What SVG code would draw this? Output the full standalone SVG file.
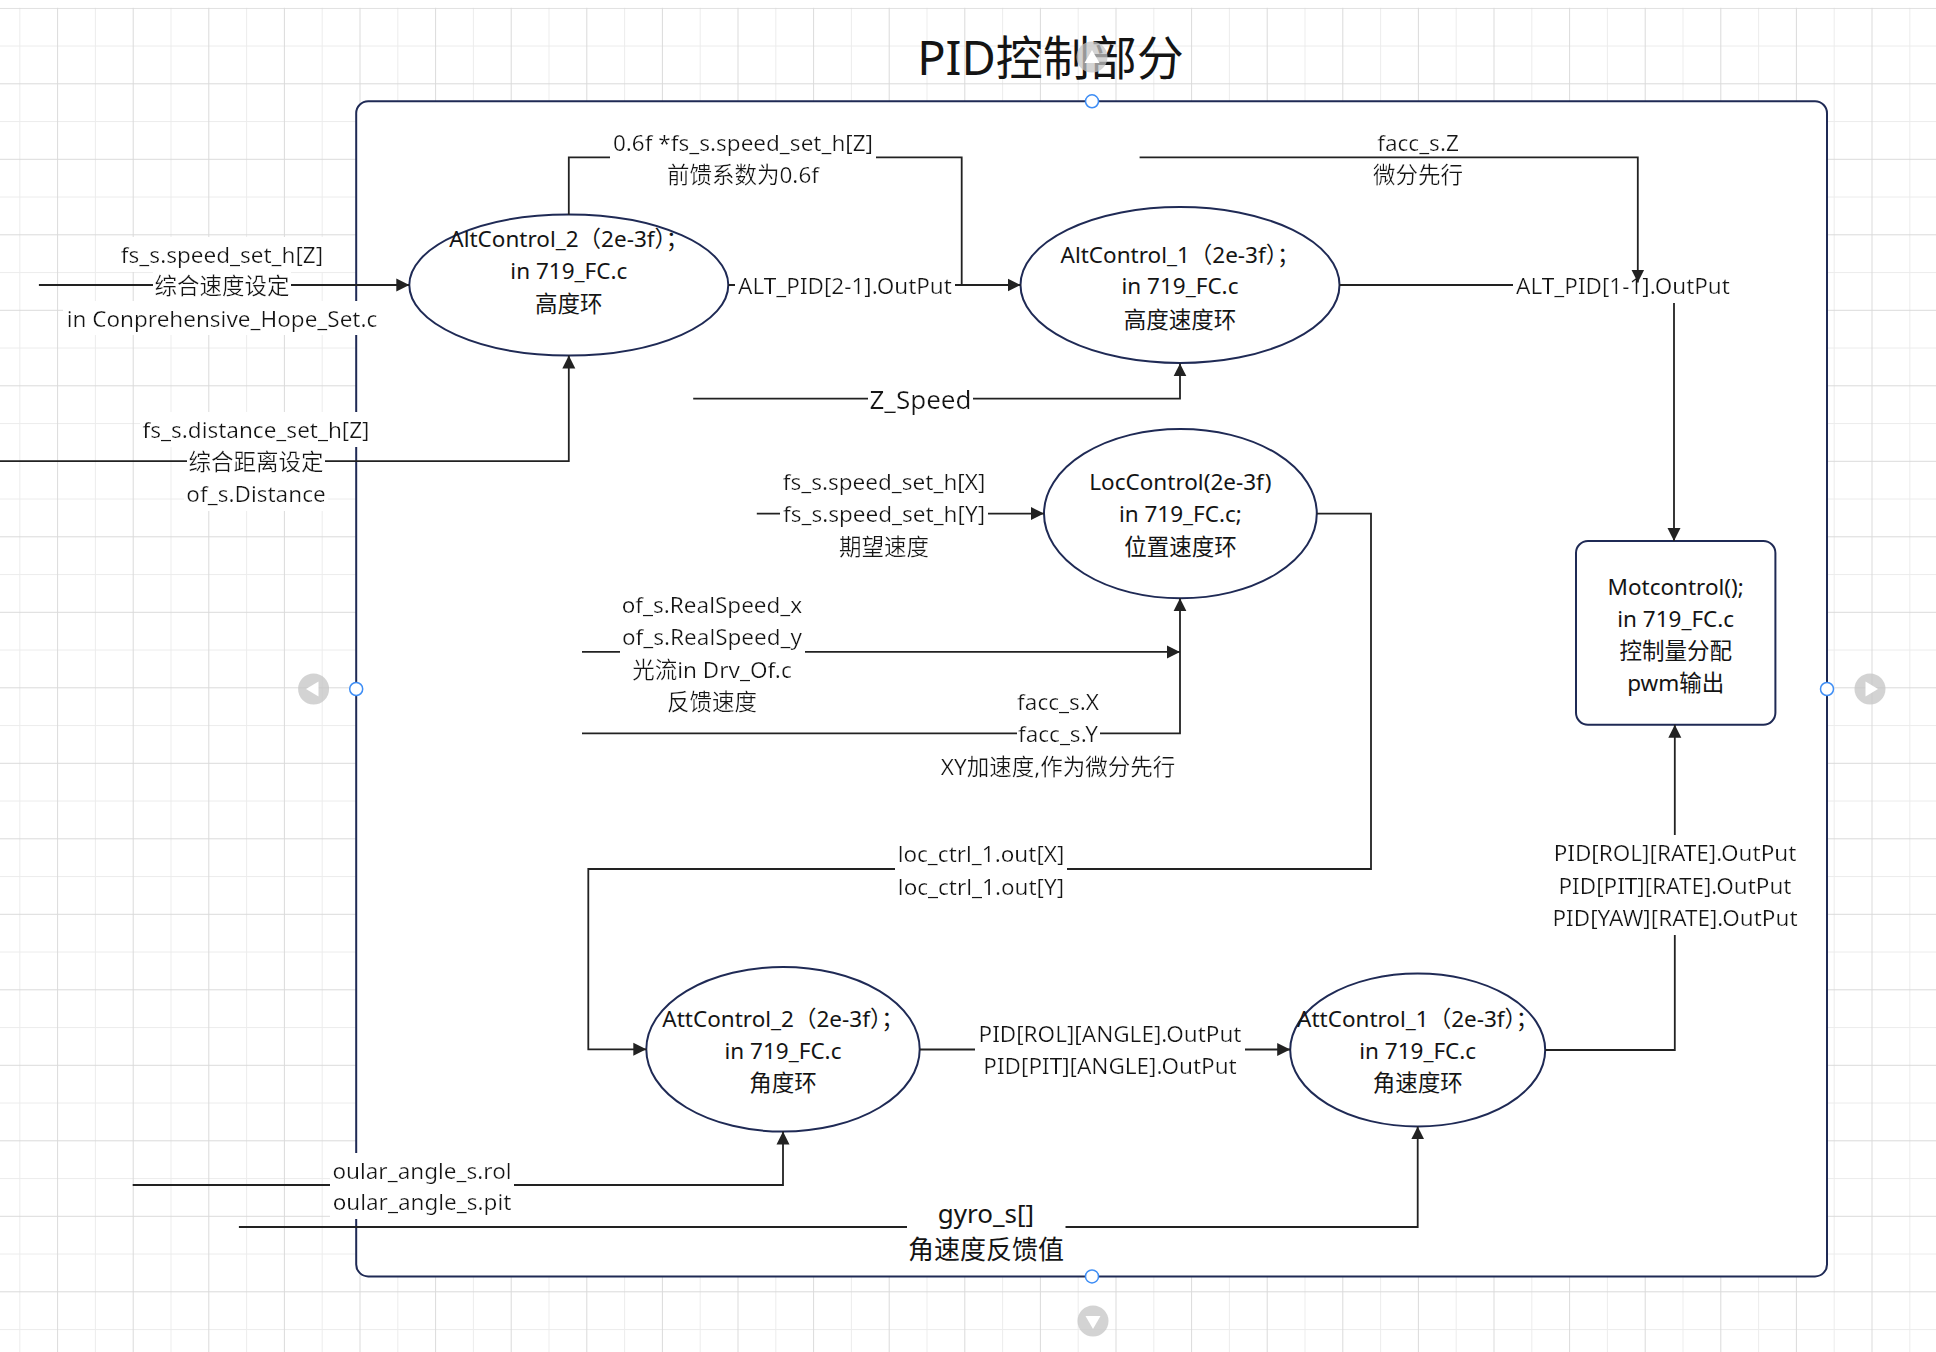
<svg xmlns="http://www.w3.org/2000/svg" width="1936" height="1352" viewBox="0 0 1936 1352">
<defs>
<style>
.t{font-family:'Noto Sans','Noto Sans CJK SC',sans-serif;font-size:22.5px;fill:#141414;text-anchor:middle;dominant-baseline:central;}
.lbl{filter:url(#bg);}
.big{font-size:26px;}
.title{font-size:47px;}
.edge{fill:none;stroke:#222;stroke-width:1.8;}
.arr{marker-end:url(#arrow);}
.node{fill:#fff;stroke:#1f2a55;stroke-width:2;}
.handle{fill:#fff;stroke:#3d8df5;stroke-width:1.5;}
.btn{fill:#c4c4c4;opacity:0.75;}
.tri{fill:#fff;}
</style>
<pattern id="grid" patternUnits="userSpaceOnUse" x="19.3" y="7.8" width="75.6" height="75.5">
<rect x="0" y="0" width="1" height="75.5" fill="#ececec"/>
<rect x="0" y="37.75" width="75.6" height="1" fill="#ececec"/>
<rect x="37.8" y="0" width="1" height="75.5" fill="#dadada"/>
<rect x="0" y="0" width="75.6" height="1" fill="#dadada"/>
</pattern>
<filter id="bg" x="-0.01" y="-0.04" width="1.02" height="1.08">
<feFlood flood-color="#ffffff" result="f"/>
<feComposite in="SourceGraphic" in2="f" operator="over"/>
</filter>
<marker id="arrow" markerUnits="userSpaceOnUse" markerWidth="14" markerHeight="14" viewBox="0 0 14 14" refX="13" refY="7" orient="auto">
<path d="M0,0.5 L13,7 L0,13.5 Z" fill="#222"/>
</marker>
</defs>
<rect x="0" y="0" width="1936" height="1352" fill="#fff"/>
<rect x="0" y="7.8" width="1936" height="1345" fill="url(#grid)"/>

<g id="frame">
<rect x="356.2" y="101.3" width="1470.8" height="1175.1" rx="12" ry="12" fill="#fff" stroke="#1f2a55" stroke-width="2"/>
</g>

<g id="title">
<text class="t title" x="1050.5" y="57">PID控制部分</text>
</g>

<g id="node-altcontrol2">
<ellipse class="node" cx="568.8" cy="285" rx="159.5" ry="70.5"/>
<text class="t" x="568.8" y="238.4">AltControl_2（2e-3f）；</text>
<text class="t" x="568.8" y="270.3">in 719_FC.c</text>
<text class="t" x="568.8" y="303">高度环</text>
</g>

<g id="node-altcontrol1">
<ellipse class="node" cx="1180" cy="285" rx="159.5" ry="78"/>
<text class="t" x="1180" y="254.3">AltControl_1（2e-3f）；</text>
<text class="t" x="1180" y="285.8">in 719_FC.c</text>
<text class="t" x="1180" y="319">高度速度环</text>
</g>

<g id="node-loccontrol">
<ellipse class="node" cx="1180.4" cy="513.6" rx="136.4" ry="84.7"/>
<text class="t" x="1180.4" y="481.9">LocControl(2e-3f)</text>
<text class="t" x="1180.4" y="513.8">in 719_FC.c;</text>
<text class="t" x="1180.4" y="546.6">位置速度环</text>
</g>

<g id="node-attcontrol2">
<ellipse class="node" cx="783" cy="1049.3" rx="136.7" ry="82.3"/>
<text class="t" x="783" y="1018.7">AttControl_2（2e-3f）；</text>
<text class="t" x="783" y="1050">in 719_FC.c</text>
<text class="t" x="783" y="1082.5">角度环</text>
</g>

<g id="node-attcontrol1">
<ellipse class="node" cx="1417.7" cy="1050" rx="127.5" ry="76.5"/>
<text class="t" x="1417.7" y="1018.7">AttControl_1（2e-3f）；</text>
<text class="t" x="1417.7" y="1050">in 719_FC.c</text>
<text class="t" x="1417.7" y="1082.5">角速度环</text>
</g>

<g id="node-motcontrol">
<rect class="node" x="1576" y="541" width="199.4" height="183.7" rx="12" ry="12"/>
<text class="t" x="1675.7" y="586.2">Motcontrol();</text>
<text class="t" x="1675.7" y="618.5">in 719_FC.c</text>
<text class="t" x="1675.7" y="650">控制量分配</text>
<text class="t" x="1675.7" y="682">pwm输出</text>
</g>

<g id="connectors">
<path class="edge arr" d="M38.9,285 H409.3"/>
<path class="edge arr" d="M0,461.2 H568.8 V355.6"/>
<path class="edge" d="M568.8,214.7 V157.3 H961.7 V285"/>
<path class="edge arr" d="M728.4,285 H1020.5"/>
<path class="edge arr" d="M1339.6,285 H1674 V541"/>
<path class="edge arr" d="M693.2,398.7 H1180 V363.4"/>
<path class="edge arr" d="M756.8,513.6 H1044"/>
<path class="edge arr" d="M582,651.9 H1180"/>
<path class="edge arr" d="M582,733.3 H1180 V598.3"/>
<path class="edge arr" d="M1316.8,513.6 H1371 V869 H588.3 V1049.3 H646.3"/>
<path class="edge arr" d="M919.8,1049.5 H1290.2"/>
<path class="edge arr" d="M1545.2,1050 H1674.8 V724.7"/>
<path class="edge arr" d="M132.7,1185 H783 V1131.6"/>
<path class="edge arr" d="M238.9,1227 H1417.7 V1126.4"/>

<text class="t lbl" x="222" y="254.3">fs_s.speed_set_h[Z]</text>
<text class="t lbl" x="222" y="285.5">综合速度设定</text>
<text class="t lbl" x="222" y="318">in Conprehensive_Hope_Set.c</text>

<text class="t lbl" x="256" y="429.5">fs_s.distance_set_h[Z]</text>
<text class="t lbl" x="256" y="461.5">综合距离设定</text>
<text class="t lbl" x="256" y="493.5">of_s.Distance</text>

<text class="t lbl" x="743" y="142.2">0.6f *fs_s.speed_set_h[Z]</text>
<text class="t lbl" x="743" y="174.6">前馈系数为0.6f</text>

<text class="t lbl" x="845" y="285.5">ALT_PID[2-1].OutPut</text>

<text class="t lbl" x="1418" y="142.2">facc_s.Z</text>
<text class="t lbl" x="1418" y="174.6">微分先行</text>

<text class="t lbl" x="1623" y="285.5">ALT_PID[1-1].OutPut</text>

<text class="t lbl big" x="920.5" y="399">Z_Speed</text>

<text class="t lbl" x="884" y="481.9">fs_s.speed_set_h[X]</text>
<text class="t lbl" x="884" y="513.6">fs_s.speed_set_h[Y]</text>
<text class="t lbl" x="884" y="546.6">期望速度</text>

<text class="t lbl" x="712" y="604.5">of_s.RealSpeed_x</text>
<text class="t lbl" x="712" y="636.5">of_s.RealSpeed_y</text>
<text class="t lbl" x="712" y="669">光流in Drv_Of.c</text>
<text class="t lbl" x="712" y="701.5">反馈速度</text>

<text class="t lbl" x="1058" y="701.5">facc_s.X</text>
<text class="t lbl" x="1058" y="733.3">facc_s.Y</text>
<text class="t lbl" x="1058" y="766">XY加速度,作为微分先行</text>

<text class="t lbl" x="981" y="853.5">loc_ctrl_1.out[X]</text>
<text class="t lbl" x="981" y="886">loc_ctrl_1.out[Y]</text>

<text class="t lbl" x="1110" y="1033.5">PID[ROL][ANGLE].OutPut</text>
<text class="t lbl" x="1110" y="1065.8">PID[PIT][ANGLE].OutPut</text>

<text class="t lbl" x="1675" y="852.7">PID[ROL][RATE].OutPut</text>
<text class="t lbl" x="1675" y="885">PID[PIT][RATE].OutPut</text>
<text class="t lbl" x="1675" y="917.4">PID[YAW][RATE].OutPut</text>

<text class="t lbl" x="422" y="1170.4">oular_angle_s.rol</text>
<text class="t lbl" x="422" y="1201.9">oular_angle_s.pit</text>

<rect x="907" y="1197" width="158.5" height="70" fill="#fff"/>
<text class="t big" x="986" y="1213">gyro_s[]</text>
<text class="t big" x="986" y="1249">角速度反馈值</text>

<path class="edge arr" d="M1139.6,157.3 H1637.8 V282.5"/>
</g>

<g id="ui-handles">
<circle class="handle" cx="1092" cy="101.3" r="6.5"/>
<circle class="handle" cx="1092" cy="1276.4" r="6.5"/>
<circle class="handle" cx="356.2" cy="689" r="6.5"/>
<circle class="handle" cx="1827" cy="689" r="6.5"/>
<circle class="btn" cx="1092" cy="57" r="15.5"/>
<path class="tri" d="M1092,50 L1099.5,63 L1084.5,63 Z"/>
<circle class="btn" cx="313.6" cy="689" r="15.5"/>
<path class="tri" d="M306,689 L318.5,681.5 L318.5,696.5 Z"/>
<circle class="btn" cx="1870" cy="689" r="15.5"/>
<path class="tri" d="M1878,689 L1865.5,681.5 L1865.5,696.5 Z"/>
<circle class="btn" cx="1093" cy="1321" r="15.5"/>
<path class="tri" d="M1093,1329 L1085.5,1316 L1100.5,1316 Z"/>
</g>
</svg>
